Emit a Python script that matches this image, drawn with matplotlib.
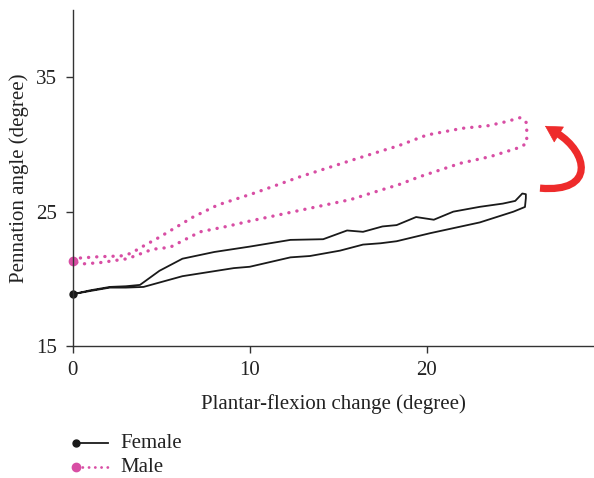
import matplotlib

matplotlib.use("Agg")
import matplotlib.pyplot as plt  # noqa: E402
from matplotlib.lines import Line2D  # noqa: E402
from matplotlib.patches import FancyArrowPatch, PathPatch  # noqa: E402
from matplotlib.path import Path  # noqa: E402

plt.rcParams["font.family"] = ["Liberation Serif", "DejaVu Serif"]

# hysteresis loops: loading branch then unloading branch
female_x = [0, 1.0, 2.1, 3.0, 3.8, 4.9, 6.2, 8.0, 10.0, 12.3, 14.15, 15.5, 16.4,
            17.5, 18.3, 19.4, 20.4, 21.5, 23.0, 24.3, 25.0, 25.4, 25.6, 25.6,
            25.55, 24.9, 23.0, 20.2, 18.3, 17.4, 16.4, 15.1, 13.4, 12.3, 10.0,
            9.1, 6.2, 4.0, 3.0, 2.1, 1.0, 0]
female_y = [18.86, 19.15, 19.4, 19.45, 19.55, 20.6, 21.5, 22.0, 22.4, 22.9, 22.95,
            23.6, 23.5, 23.9, 24.0, 24.6, 24.4, 25.0, 25.36, 25.6, 25.8, 26.35,
            26.3, 26.0, 25.35, 25.0, 24.2, 23.4, 22.8, 22.65, 22.55, 22.1, 21.7,
            21.6, 20.9, 20.8, 20.2, 19.4, 19.35, 19.35, 19.1, 18.86]

male_x = [0, 0.4, 1.5, 2.7, 3.3, 3.8, 4.9, 6.8, 8.2, 10.3, 12.85, 15.7, 17.4,
          18.4, 20.0, 22.0, 23.5, 24.5, 25.3, 25.65, 25.65, 25.3, 23.6, 21.9,
          19.6, 18.4, 17.4, 15.7, 12.85, 10.0, 8.7, 7.2, 5.5, 4.5, 3.1, 1.5,
          0.4, 0]
male_y = [21.35, 21.55, 21.65, 21.7, 21.9, 22.3, 23.1, 24.6, 25.5, 26.4, 27.6,
          28.8, 29.5, 29.9, 30.7, 31.2, 31.4, 31.7, 32.0, 31.6, 30.1, 29.8,
          29.1, 28.6, 27.6, 27.0, 26.6, 25.9, 25.1, 24.3, 23.9, 23.5, 22.35,
          22.2, 21.5, 21.2, 21.1, 21.35]

x_ticks = [0, 10, 20]
y_ticks = [15, 25, 35]
series_names = ["Female", "Male"]

black = "#1a1a1a"
pink = "#d84ea4"
red = "#ee2b2b"
FS = 15

fig = plt.figure(figsize=(5.94, 4.78), dpi=100)
ax = fig.add_axes([0.1224, 0.276, 0.8776, 0.703])

ax.plot(female_x, female_y, color=black, lw=1.3, solid_joinstyle="round")
ax.plot(male_x, male_y, color=pink, lw=2.4, linestyle=(0, (0.05, 2.4)),
        dash_capstyle="round")
ax.plot([female_x[0]], [female_y[0]], "o", color=black, ms=5, clip_on=False)
ax.plot([male_x[0]], [male_y[0]], "o", color=pink, ms=6, clip_on=False)

# curved red arrow right of the loops: bezier shaft + separate head
shaft = Path([(26.4, 26.75), (29.57, 26.38), (29.11, 29.42), (27.36, 30.84)],
             [Path.MOVETO, Path.CURVE4, Path.CURVE4, Path.CURVE4])
ax.add_patch(PathPatch(shaft, fill=False, edgecolor=red, lw=5.2,
                       capstyle="butt", clip_on=False))
ax.add_patch(FancyArrowPatch((27.53, 30.69), (26.68, 31.38),
                             arrowstyle="-|>,head_length=0.8,head_width=0.45",
                             mutation_scale=14, color=red, lw=0.5,
                             shrinkA=0, shrinkB=0, clip_on=False))

ax.set_xlim(0, 29.45)
ax.set_ylim(15, 40)
ax.set_xticks(x_ticks)
ax.set_yticks(y_ticks)
for side in ("top", "right"):
    ax.spines[side].set_visible(False)
for side in ("left", "bottom"):
    ax.spines[side].set_color("#333333")
    ax.spines[side].set_linewidth(1.0)
ax.tick_params(direction="out", length=5, width=1.0, colors="#333333",
               labelcolor="#222222", labelsize=FS, pad=6)
ax.set_xlabel("Plantar-flexion change (degree)", fontsize=FS, color="#222222", labelpad=10)
ax.set_ylabel("Pennation angle (degree)", fontsize=FS, color="#222222", labelpad=5)

# legend drawn underneath, marker on the left end of each sample line
styles = [dict(color=black, lw=1.3), dict(color=pink, lw=2.0, linestyle=(0, (0.05, 2.2)),
                                           dash_capstyle="round")]
msz = [5, 6]
rows_y = [1 - 443 / 478, 1 - 467 / 478]
for name, st, ms, yy in zip(series_names, styles, msz, rows_y):
    x0, x1 = 76 / 594, 108 / 594
    fig.add_artist(Line2D([x0, x1], [yy, yy], transform=fig.transFigure, **st))
    fig.add_artist(Line2D([x0], [yy], transform=fig.transFigure, marker="o",
                          color=st["color"], ms=ms, lw=0))
    fig.text(120 / 594, yy, name, fontsize=FS, color="#222222", va="center", ha="left")

fig.savefig("out.png", dpi=100)
